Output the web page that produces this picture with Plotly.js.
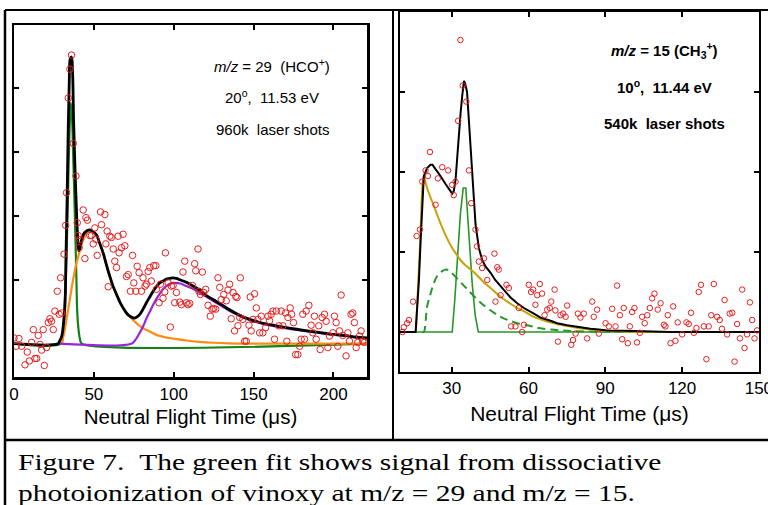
<!DOCTYPE html>
<html>
<head>
<meta charset="utf-8">
<script src="https://cdn.plot.ly/plotly-3.0.1.min.js"></script>
<style>
  html, body { margin: 0; padding: 0; background: #ffffff; }
  #chart { width: 768px; height: 505px; }
</style>
</head>
<body>
<div id="chart"></div>
<script>
// ---------------- data: left panel (m/z = 29) ----------------
const leftX = [0.0,3.1,1.3,4.8,6.9,8.3,9.6,11.0,12.1,13.1,14.2,15.2,16.3,17.3,18.3,19.0,20.4,21.5,22.5,23.5,24.6,25.6,27.1,28.3,29.2,29.8,31.3,32.3,32.9,34.0,35.0,36.0,37.1,38.8,39.6,40.2,40.8,41.3,43.3,44.4,45.0,46.0,47.5,48.5,49.6,50.6,51.3,52.1,54.2,54.8,56.9,57.5,58.3,59.0,60.0,61.0,62.1,63.1,64.2,65.2,65.8,67.3,68.3,69.4,70.4,71.5,72.9,74.2,75.0,76.3,77.1,78.3,79.8,80.8,82.1,82.9,84.0,85.0,86.0,87.5,88.8,89.2,90.8,91.7,93.3,94.4,94.8,96.5,97.9,98.5,99.6,100.6,101.7,103.8,104.8,105.8,106.9,107.9,109.0,110.0,111.7,113.1,113.8,115.2,115.8,116.7,117.9,118.8,120.0,121.5,122.9,124.0,125.0,126.3,127.7,128.8,129.8,131.3,132.9,134.0,135.0,136.0,137.1,138.1,138.8,139.6,140.2,141.3,141.7,143.3,144.4,145.4,147.1,147.9,148.5,149.6,150.6,151.7,152.7,153.8,154.8,155.8,157.5,159.0,160.0,161.0,162.1,163.1,164.2,165.8,167.3,168.3,170.0,170.8,171.5,172.9,173.8,175.0,176.3,177.7,178.8,179.8,180.8,181.9,182.9,184.6,186.0,187.1,188.1,189.2,190.8,191.7,192.9,194.4,195.4,196.5,197.5,199.6,200.6,201.7,202.7,203.8,204.8,205.8,207.9,209.0,210.0,211.0,212.1,213.1,214.2,215.2,216.3,217.3,218.3,219.4];
const leftY = [0.09,0.08,-0.04,-0.04,-0.33,-0.13,-0.27,0.02,0.22,-0.23,-0.23,0.13,-0.01,-0.10,0.22,-0.34,-0.06,0.33,0.39,0.35,0.22,0.51,0.82,0.46,1.03,0.48,1.40,1.85,2.36,3.84,4.29,4.51,3.13,2.62,1.89,1.69,1.50,1.63,2.09,1.33,1.97,1.93,1.69,1.69,1.56,1.81,1.63,1.38,2.06,1.86,2.02,1.56,1.76,0.89,1.68,1.66,1.48,1.29,1.19,1.68,1.42,1.50,1.71,1.53,1.05,1.08,0.82,1.38,0.95,0.82,1.21,1.11,0.82,1.03,0.90,0.93,1.13,1.19,0.98,1.22,1.22,0.85,0.64,0.93,0.71,0.81,1.42,0.95,0.26,0.90,0.91,0.64,0.80,0.65,0.61,1.12,1.29,0.64,0.61,0.63,0.91,1.25,1.14,1.48,0.82,0.77,1.12,0.80,0.85,0.60,0.43,0.54,0.55,0.54,1.03,0.88,0.69,0.77,0.67,0.84,0.93,0.39,0.80,0.20,0.74,0.72,0.28,0.41,1.03,0.38,0.04,0.04,0.29,0.73,0.20,0.38,0.78,0.56,0.38,0.17,0.43,0.17,0.25,0.43,0.36,0.46,0.51,0.07,0.51,0.28,0.51,0.28,0.48,0.04,0.41,0.56,0.46,0.33,-0.17,-0.17,-0.04,0.07,0.46,0.07,0.51,0.60,0.29,0.17,0.43,0.07,0.28,-0.09,0.41,0.46,0.35,-0.06,0.12,0.17,0.43,0.33,-0.04,0.20,0.76,0.13,-0.19,0.17,0.04,0.46,0.48,0.33,-0.06,0.02,0.12,0.20,0.04,0.02];

// total fit (black)
const leftFitX = [0,27.5,28.5,29.8,30.8,31.9,32.5,33.2,33.9,34.6,35.2,36.0,36.6,37.3,38.1,39.0,39.6,40.2,40.7,41.3,42.3,44,47.1,49,51.7,53.5,55.8,58,60,62,64.2,66.3,68.3,70.4,72.5,74,75.6,77,78.75,80.8,82.9,85,87.1,89,91.25,93.3,95.4,97.5,99.6,101.7,103.75,107.9,111.5,116,120,124.6,130,135,140,145.4,150,155.8,160,166,176,187,197,208,214,221];
const leftFitY = [0,0,0.04,0.11,0.27,0.6,1.3,2.2,3.3,4.1,4.45,4.48,4.3,3.5,2.8,2.15,1.78,1.52,1.45,1.5,1.62,1.73,1.78,1.76,1.70,1.58,1.42,1.22,1.05,0.9,0.77,0.65,0.56,0.48,0.43,0.41,0.40,0.42,0.46,0.54,0.64,0.73,0.82,0.89,0.95,0.98,1.01,1.02,1.03,1.02,1.0,0.96,0.91,0.84,0.76,0.69,0.61,0.53,0.46,0.40,0.36,0.32,0.30,0.27,0.23,0.19,0.155,0.125,0.105,0.09];
// green component (dissociative photoionization)
const leftGreenX = [0,29.5,30.5,31.5,32.5,33.5,34.3,35.0,35.6,36.3,37.0,38.1,39.0,39.6,40.5,41.5,42.5,221];
const leftGreenY = [0,0,0.12,0.5,1.05,2.0,2.9,3.5,3.76,3.55,3.0,2.0,1.1,0.5,0.2,0.05,0,0];
// orange component
const leftOrangeX = [29,29.5,31,33,35,37,39,40.2,41.5,43,45,47.1,49,51.7,53.5,55.8,58,60,62,64.2,66.3,68.3,70.4,72.5,75,78,81,85,90,95,100,108,116,125,135,145,221];
const leftOrangeY = [0,0,0.12,0.4,0.7,1.0,1.25,1.36,1.48,1.6,1.71,1.77,1.76,1.70,1.58,1.42,1.22,1.05,0.9,0.77,0.65,0.56,0.48,0.42,0.36,0.29,0.24,0.19,0.13,0.1,0.08,0.05,0.03,0.015,0.005,0,0];
// purple component
const leftPurpleX = [28,73.5,76,78,80.8,83,85,87,89.2,91.5,93.5,95.4,98,101,104,108,112,116,120,124.6,130,135,140,145.4,150,155.8,160,166,176,187,197,208,214,221];
const leftPurpleY = [0,0,0.06,0.14,0.27,0.4,0.5,0.6,0.7,0.79,0.86,0.9,0.94,0.95,0.94,0.9,0.86,0.8,0.74,0.67,0.59,0.51,0.45,0.39,0.35,0.31,0.29,0.26,0.22,0.18,0.15,0.12,0.1,0.085];

// ---------------- data: right panel (m/z = 15) ----------------
const rightX = [10.7,11.3,12.6,13.3,14.9,16.3,17.6,18.5,19.8,20.7,21.5,23.7,24.6,26.3,28.6,30.2,30.8,31.5,32.5,33.4,34.3,35.7,36.7,37.6,39.3,39.9,40.6,41.9,42.6,43.9,46.7,47.1,47.8,48.4,49.1,51.4,52.3,53.2,54.9,56.2,57.5,58.2,60.1,61.0,61.8,62.7,63.4,64.4,65.3,66.3,67.3,68.3,68.9,70.2,70.5,71.5,72.5,73.5,74.5,75.1,76.7,77.4,78.4,79.3,80.3,81.6,82.9,84.9,85.5,86.8,87.5,90.1,91.4,92.7,94.0,94.6,95.7,96.6,97.2,98.8,99.6,100.5,101.4,102.4,103.5,104.4,105.4,106.4,107.4,108.3,109.2,110.5,111.6,112.9,113.5,114.4,115.5,116.5,117.4,118.3,120.0,121.7,122.6,123.5,124.6,125.6,126.5,127.4,128.5,129.5,130.4,131.4,132.4,133.7,134.7,135.6,136.6,137.6,138.6,139.6,140.5,141.5,142.6,143.5,144.4,145.4,146.5,147.4,148.3,149.3];
const rightY = [0.00,0.06,0.11,0.15,0.38,1.20,1.28,1.88,2.02,1.95,2.25,1.59,1.92,2.06,2.02,1.84,1.71,1.88,2.64,3.65,3.08,2.88,2.02,1.61,1.28,1.07,0.88,0.80,0.92,0.65,0.98,0.38,0.81,0.78,0.46,0.59,0.55,0.07,0.07,0.30,0.00,0.09,0.59,0.50,0.53,0.34,0.46,0.60,0.48,0.21,0.28,0.30,0.38,0.53,0.27,-0.12,0.21,0.23,0.19,0.33,-0.16,-0.10,-0.02,0.23,0.18,0.23,-0.08,0.38,0.19,0.28,-0.02,0.11,0.07,0.29,0.07,0.58,0.21,-0.09,0.30,-0.14,0.07,0.25,0.30,-0.13,-0.01,0.19,0.11,0.21,0.30,0.42,0.48,0.28,0.36,0.09,0.07,0.21,-0.14,0.32,-0.11,0.12,-0.03,0.12,0.10,0.24,-0.01,0.05,0.50,0.59,0.07,-0.34,0.07,0.21,0.60,0.19,0.15,0.04,0.40,-0.03,0.23,0.24,-0.37,0.10,-0.08,0.53,-0.20,-0.03,0.37,0.15,-0.08,0.02];

const rightFitX = [9.8,15.9,16.5,17.2,17.8,18.4,19.1,20.4,21.7,22.5,23.7,25.6,27.6,29.0,30.2,30.8,31.5,32.2,32.8,33.5,34.1,34.8,35.3,36.0,36.6,37.1,37.8,38.4,39.3,40.6,41.9,43.2,45.2,47,49.1,51,53,55.6,58.2,62.1,64.7,68.6,71.2,75.1,77.7,81.6,84.2,87.5,90.7,97.2,105,115.5,150];
const rightFitY = [0,0,0.3,0.65,1.1,1.55,1.95,2.05,2.09,2.09,2.04,1.95,1.85,1.78,1.73,1.76,1.9,2.2,2.48,2.75,2.95,3.14,3.1,3.0,2.7,2.45,2.1,1.82,1.35,1.05,0.9,0.82,0.74,0.65,0.57,0.5,0.43,0.36,0.30,0.23,0.18,0.14,0.11,0.085,0.07,0.05,0.04,0.03,0.02,0.015,0.01,0,0];
const rightGoldX = [16,17.5,19.1,20,21.5,23,24.5,26.9,28.2,30,32.1,33.4,35.5,38.6,42.6,45.2,49.1,51.7,55.6,58.2,62.1,64.7,68.6,71.2,75.1,77.7,81.6,84.2,90,97.2,115.5];
const rightGoldY = [0,1.0,1.94,1.84,1.7,1.58,1.45,1.26,1.17,1.06,0.96,0.9,0.83,0.75,0.62,0.55,0.44,0.38,0.30,0.26,0.19,0.16,0.12,0.10,0.075,0.06,0.04,0.03,0.015,0.005,0];
const rightGreenDashX = [18.5,19.1,20.4,21.5,22.4,24.3,26.3,28,29.5,32.1,34.7,36,38.6,41.2,43.9,47,49.1,52,55.6,60,64,68.6,75,85,100];
const rightGreenDashY = [0,0,0.32,0.45,0.55,0.7,0.76,0.78,0.75,0.67,0.58,0.54,0.45,0.37,0.3,0.23,0.19,0.15,0.11,0.08,0.05,0.03,0.015,0.005,0];
const rightGreenX = [9.8,30.2,31.2,32.1,33.4,34.5,35.5,36.7,38,39.2,40.4,150];
const rightGreenY = [0,0,0.4,0.82,1.48,1.8,1.8,1.23,0.61,0.2,0,0];

// tick labels
const leftTicks = [0,50,100,150,200];
const rightTicks = [30,60,90,120,150];
const leftYTicks = [1,2,3,4];
const rightYTicks = [1,2,3];
const xTitle = 'Neutral Flight Time (\u03bcs)';
const leftNotes = ['<i>m/z</i> = 29 \u00a0(HCO<sup>+</sup>)', '20<sup>o</sup>, \u00a011.53 eV', '960k \u00a0laser shots'];
const rightNotes = ['<b><i>m/z</i> = 15 (CH<sub>3</sub><sup>+</sup>)</b>', '<b>10<sup>o</sup>, \u00a011.44 eV</b>', '<b>540k \u00a0laser shots</b>'];
const captionLines = ['Figure 7. \u00a0The green fit shows signal from dissociative', 'photoionization of vinoxy at m/z = 29 and m/z = 15.'];

// ---------------- layout helpers ----------------
const W = 768, H = 505;
const px = v => v / W;
const py = v => 1 - v / H;

const RED = 'rgb(232,30,30)';
const lineOf = (x, y, color, width, xa, ya, dash, shape) => ({
  x: x, y: y, xaxis: xa, yaxis: ya, type: 'scatter', mode: 'lines',
  line: { color: color, width: width, dash: dash || 'solid', shape: shape || 'linear' },
  hoverinfo: 'skip', showlegend: false
});

const traces = [
  lineOf(leftGreenX, leftGreenY, 'rgb(20,130,20)', 2.2, 'x', 'y', 'solid', 'spline'),
  lineOf(leftOrangeX, leftOrangeY, 'rgb(255,140,20)', 2.2, 'x', 'y', 'solid', 'spline'),
  lineOf(leftPurpleX, leftPurpleY, 'rgb(150,40,215)', 2.2, 'x', 'y', 'solid', 'spline'),
  lineOf(leftFitX, leftFitY, '#000000', 2.8, 'x', 'y', 'solid', 'spline'),
  { x: leftX, y: leftY, xaxis: 'x', yaxis: 'y', type: 'scatter', mode: 'markers',
    marker: { symbol: 'circle-open', size: 6.5, color: RED, line: { color: RED, width: 1 } },
    hoverinfo: 'skip', showlegend: false },
  lineOf(rightGreenX, rightGreenY, 'rgb(40,150,40)', 1.6, 'x2', 'y2'),
  lineOf(rightGreenDashX, rightGreenDashY, 'rgb(40,150,40)', 2, 'x2', 'y2', '8px,5px', 'spline'),
  lineOf(rightGoldX, rightGoldY, 'rgb(200,160,10)', 2, 'x2', 'y2', 'solid', 'spline'),
  lineOf(rightFitX, rightFitY, '#000000', 2, 'x2', 'y2'),
  { x: rightX, y: rightY, xaxis: 'x2', yaxis: 'y2', type: 'scatter', mode: 'markers',
    marker: { symbol: 'circle-open', size: 5.5, color: RED, line: { color: RED, width: 1 } },
    hoverinfo: 'skip', showlegend: false }
];

const axisBase = {
  showgrid: false, zeroline: false, showline: true, mirror: 'ticks',
  linecolor: '#000', ticks: 'inside', tickcolor: '#000', ticklen: 5, tickwidth: 2,
  ticklabeloverflow: 'allow'
};

const note = (t, x, y, size) => ({
  text: t, xref: 'paper', yref: 'paper', x: px(x), y: py(y), xanchor: 'center', yanchor: 'middle',
  showarrow: false, font: { family: 'Arial, Liberation Sans, sans-serif', size: size, color: '#000' }
});

const annotations = [
  note(leftNotes[0], 272, 65, 15), note(leftNotes[1], 272, 97, 15), note(leftNotes[2], 272, 129, 15),
  note(rightNotes[0], 664, 51, 15), note(rightNotes[1], 664, 87, 15), note(rightNotes[2], 664, 123, 15),
  { text: captionLines[0], xref: 'paper', yref: 'paper', x: px(16), y: py(462), xanchor: 'left', yanchor: 'middle',
    showarrow: false, font: { family: 'Liberation Serif, Times New Roman, serif', size: 22.5, color: '#000' } },
  { text: captionLines[1], xref: 'paper', yref: 'paper', x: px(16), y: py(493), xanchor: 'left', yanchor: 'middle',
    showarrow: false, font: { family: 'Liberation Serif, Times New Roman, serif', size: 22.5, color: '#000' } }
];

const frame = (x0, y0, x1, y1, w) => ({
  type: 'line', xref: 'paper', yref: 'paper', x0: px(x0), y0: py(y0), x1: px(x1), y1: py(y1),
  line: { color: '#000', width: w }
});

const layout = {
  width: W, height: H, margin: { l: 0, r: 0, t: 0, b: 0 },
  paper_bgcolor: '#fff', plot_bgcolor: '#fff', showlegend: false,
  font: { family: 'Arial, Liberation Sans, sans-serif', color: '#000' },
  xaxis: Object.assign({}, axisBase, {
    domain: [px(14), px(367)], range: [0, 221], tickvals: leftTicks,
    linewidth: 2.5, tickfont: { size: 17 },
    title: { text: xTitle, font: { size: 20.5 }, standoff: 7 }
  }),
  yaxis: Object.assign({}, axisBase, {
    domain: [py(377), py(25)], range: [-0.52, 4.98], tickvals: leftYTicks, showticklabels: false,
    linewidth: 2.5
  }),
  xaxis2: Object.assign({}, axisBase, {
    domain: [px(400), px(759)], range: [9.8, 150.05], tickvals: rightTicks,
    linewidth: 2, anchor: 'y2', tickfont: { size: 17 },
    title: { text: xTitle, font: { size: 21 }, standoff: 9 }
  }),
  yaxis2: Object.assign({}, axisBase, {
    domain: [py(372), py(12)], range: [-0.5, 4.0], tickvals: rightYTicks, showticklabels: false,
    linewidth: 2, anchor: 'x2'
  }),
  annotations: annotations,
  shapes: [
    frame(5, 10, 768, 10, 2),
    frame(5, 10, 5, 505, 2.5),
    frame(393, 10, 393, 440, 2),
    frame(5, 440, 768, 440, 2.5)
  ]
};

Plotly.newPlot('chart', traces, layout, { staticPlot: true, responsive: false }).then(function () {
  // the caption in the reference is set wide; stretch those two text lines horizontally
  [6, 7].forEach(function (i) {
    const t = document.querySelector('g.annotation[data-index="' + i + '"] text.annotation-text');
    if (t) {
      t.style.transformBox = 'fill-box';
      t.style.transformOrigin = '0% 50%';
      t.style.transform = 'scaleX(1.31)';
    }
  });
});
</script>
</body>
</html>
